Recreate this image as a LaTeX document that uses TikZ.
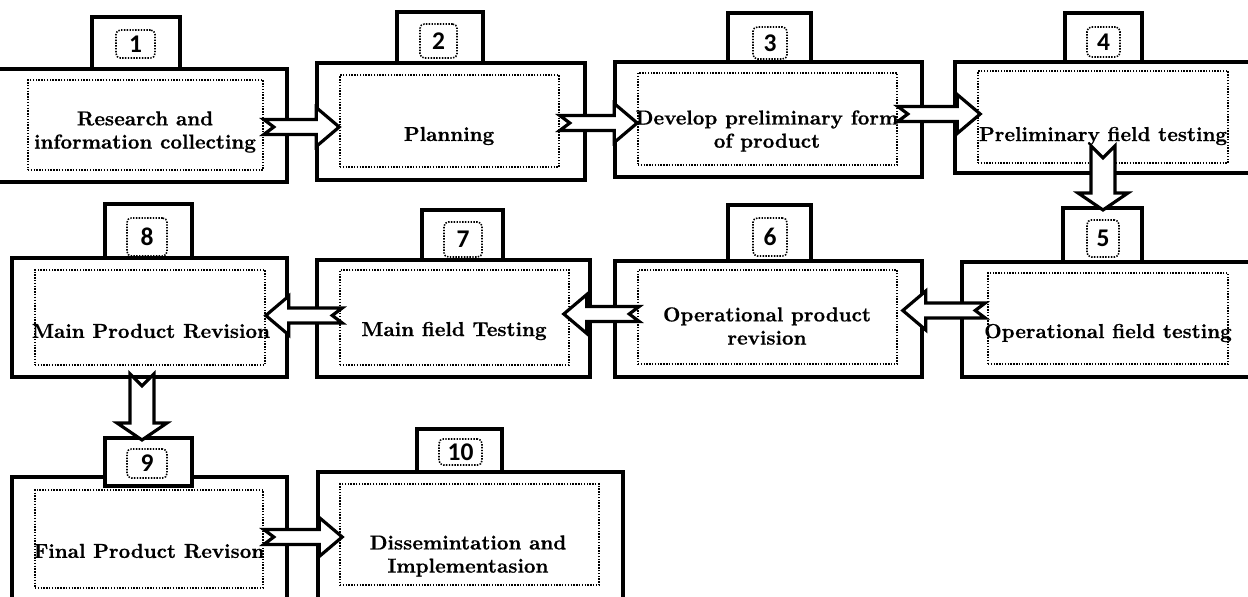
\documentclass[tikz,border=0pt]{standalone}
\usepackage{fontspec}
\newfontfamily\numfont{Carlito}
\newfontfamily\txtfont[FakeBold=0.6]{lmroman10-bold.otf}
\usetikzlibrary{calc,fit}

\newcommand{\blockarrow}[6]{%
  \coordinate (bs) at #1;
  \coordinate (be) at #2;
  \coordinate (bh) at ($(be)!#5!(bs)$);
  \draw[BArrowStyle] ($(bs)!#3!90:(be)$) -- ($(bh)!#3!90:(be)$)
    -- ($(bh)!#4!90:(be)$) -- (be) -- ($(bh)!#4!-90:(be)$)
    -- ($(bh)!#3!-90:(be)$) -- ($(bs)!#3!-90:(be)$)
    -- ($(bs)!#6!(be)$) -- cycle;}
\newcommand{\HArrow}[2]{\blockarrow{#1}{#2}{0.15cm}{0.39cm}{0.46cm}{0.2cm}}
\newcommand{\VArrow}[2]{\blockarrow{#1}{#2}{0.24cm}{0.5cm}{0.34cm}{0.24cm}}
\newcommand{\Stage}[7]{%
  \node[OuterStyle, fit={#2}] (o#1) {};
  \node[TabStyle, fit={#3}] (n#1) {};
  \node[InnerStyle, fit={#4}] (i#1) {};
  \node[NumStyle, fit={#5}, label={[NumText]center:#1}] (d#1) {};
  \node[TextStyle] (t#1) at #6 {#7};}

\begin{document}
\begin{tikzpicture}[x=0.02cm, y=-0.02cm]
    \tikzstyle{OuterStyle}=[draw, line width=2.3pt, fill=white, inner sep=0pt]
    \tikzstyle{TabStyle}=[draw, line width=2.3pt, fill=white, inner sep=0pt]
    \tikzstyle{InnerStyle}=[draw, line width=0.9pt, dash pattern=on 0.8pt off 0.8pt, inner sep=0pt]
    \tikzstyle{NumStyle}=[InnerStyle, rounded corners=2.5pt]
    \tikzstyle{NumText}=[inner sep=0pt, font=\numfont\bfseries\fontsize{14.5}{14.5}\selectfont]
    \tikzstyle{TextStyle}=[font=\txtfont\fontsize{11.5}{13.2}\selectfont, align=center, inner sep=0pt]
    \tikzstyle{BArrowStyle}=[draw, line width=1.8pt, fill=white, line join=miter]
    \useasboundingbox (0,0) rectangle (1248,597);

    \Stage{1}{(-5,69) (287,182)}{(92,17) (180,69)}{(28,80) (263,170)}{(116,30) (155,58)}{(145,132)}{Research and\\information collecting}
    \Stage{2}{(317,63) (585,180)}{(397,12) (483,63)}{(340,75) (559,167)}{(420,24) (457,58)}{(449,136)}{Planning}
    \Stage{3}{(615,62) (922,177)}{(728,13) (811,62)}{(638,73) (897,165)}{(753,27) (787,59)}{(767,131)}{Develop preliminary form\\of product}
    \Stage{4}{(955,62) (1260,173)}{(1065,13) (1142,62)}{(978,71) (1228,163)}{(1087,27) (1120,57)}{(1103,136)}{Preliminary field testing}
    \Stage{5}{(962,262) (1260,377)}{(1063,208) (1142,262)}{(988,273) (1228,364)}{(1087,220) (1119,257)}{(1108,333)}{Operational field testing}
    \Stage{6}{(615,261) (922,377)}{(728,205) (811,261)}{(638,270) (897,364)}{(753,218) (787,256)}{(767,326)}{Operational product\\revision}
    \Stage{7}{(317,260) (590,377)}{(422,210) (503,260)}{(340,270) (569,365)}{(444,222) (482,257)}{(454,331)}{Main field Testing}
    \Stage{8}{(12,258) (287,377)}{(105,204) (192,258)}{(35,270) (265,365)}{(127,218) (167,256)}{(151,331)}{Main Product Revision}
    \Stage{9}{(12,477) (287,620)}{(105,438) (192,486)}{(35,490) (263,588)}{(127,449) (167,478)}{(149,551)}{Final Product Revison}
    \Stage{10}{(318,472) (623,620)}{(417,429) (502,472)}{(340,484) (599,585)}{(439,439) (482,465)}{(468,556)}{Dissemintation and\\Implementasion}

    \coordinate (p12) at ($(i1.east)+(0,2)$);
    \HArrow{(p12)}{(p12 -| i2.west)}
    \coordinate (p23) at ($(i2.east)+(0,2)$);
    \HArrow{(p23)}{(p23 -| i3.west)}
    \coordinate (p34) at ($(i3.east)+(0,-5)$);
    \HArrow{(p34)}{($(p34 -| i4.west)+(3,0)$)}
    \coordinate (p45) at ($(i4.south)+(0,-18)$);
    \VArrow{(p45)}{($(p45 |- n5.north)+(0,4)$)}
    \coordinate (p56) at ($(i5.west)+(-2,-8)$);
    \HArrow{(p56)}{($(p56 -| i6.east)+(5,0)$)}
    \coordinate (p67) at ($(i6.west)+(2,-3)$);
    \HArrow{(p67)}{($(p67 -| i7.east)+(-6,0)$)}
    \coordinate (p78) at ($(i7.west)+(3,-2)$);
    \HArrow{(p78)}{(p78 -| i8.east)}
    \coordinate (p89) at ($(i8.south)+(-8,8)$);
    \VArrow{(p89)}{($(p89 |- n9.north)+(0,4)$)}
    \coordinate (p910) at ($(i9.east)+(0,-2)$);
    \HArrow{(p910)}{($(p910 -| i10.west)+(3,0)$)}
\end{tikzpicture}
\end{document}
